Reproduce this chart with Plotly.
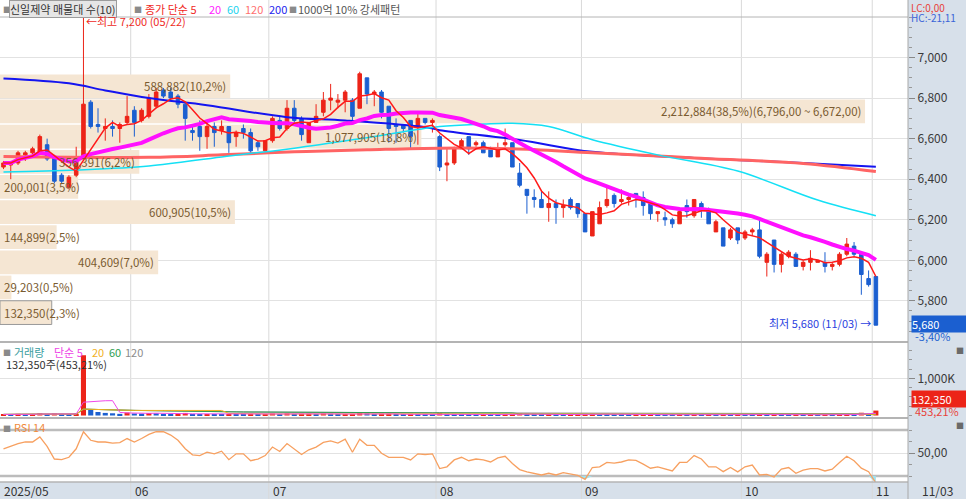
import numpy as np
import pandas as pd
import plotly.graph_objects as go

# trading days 2025-05-07 .. 2025-11-03 (KRX holidays taken out)
holidays = ["2025-06-03", "2025-06-06", "2025-08-15", "2025-10-03",
            "2025-10-06", "2025-10-07", "2025-10-08", "2025-10-09"]
dates = [d for d in pd.bdate_range("2025-05-07", "2025-11-03")
         if d.strftime("%Y-%m-%d") not in holidays]

# daily candles (won)
opens = [6460, 6470, 6480, 6520, 6530, 6530, 6570, 6510, 6420, 6360,
         6420, 6510, 6780, 6670, 6650, 6660, 6650, 6680, 6740, 6690,
         6710, 6760, 6840, 6830, 6810, 6770, 6640, 6660, 6610, 6660,
         6640, 6660, 6610, 6650, 6630, 6580, 6540, 6590, 6690, 6650,
         6750, 6700, 6580, 6680, 6730, 6790, 6780, 6790, 6790, 6750,
         6900, 6820, 6830, 6760, 6670, 6670, 6690, 6660, 6700, 6680,
         6610, 6470, 6480, 6550, 6610, 6570, 6580, 6550, 6510, 6570,
         6580, 6430, 6350, 6310, 6300, 6260, 6280, 6260, 6300, 6280,
         6230, 6120, 6180, 6270, 6320, 6290, 6300, 6330, 6310, 6280,
         6230, 6210, 6200, 6180, 6270, 6220, 6280, 6250, 6140, 6160,
         6110, 6160, 6110, 6140, 6150, 5990, 6100, 5980, 6020, 6030,
         5970, 5990, 5990, 5990, 5970, 5980, 6030, 6070, 6030, 5910,
         5920]
highs = [6490, 6490, 6540, 6540, 6560, 6620, 6600, 6520, 6430, 6420,
         6560, 7200, 6790, 6750, 6700, 6690, 6680, 6810, 6760, 6750,
         6820, 6850, 6850, 6850, 6820, 6780, 6660, 6690, 6690, 6680,
         6690, 6660, 6640, 6670, 6650, 6590, 6590, 6710, 6710, 6790,
         6790, 6710, 6680, 6770, 6830, 6870, 6820, 6840, 6800, 6930,
         6900, 6840, 6840, 6760, 6700, 6670, 6690, 6730, 6700, 6700,
         6620, 6550, 6560, 6600, 6610, 6590, 6590, 6560, 6580, 6650,
         6580, 6480, 6350, 6350, 6340, 6340, 6300, 6300, 6310, 6280,
         6230, 6240, 6290, 6360, 6330, 6350, 6320, 6330, 6340, 6290,
         6240, 6240, 6210, 6250, 6300, 6300, 6290, 6260, 6200, 6160,
         6160, 6160, 6150, 6160, 6200, 6040, 6100, 6040, 6050, 6040,
         6000, 6050, 6000, 6040, 5990, 6040, 6110, 6090, 6040, 5950,
         5920]
lows = [6450, 6400, 6470, 6490, 6510, 6520, 6490, 6380, 6380, 6350,
        6410, 6500, 6650, 6630, 6590, 6610, 6580, 6670, 6610, 6680,
        6700, 6750, 6800, 6790, 6750, 6590, 6590, 6540, 6550, 6560,
        6620, 6530, 6560, 6600, 6520, 6540, 6530, 6580, 6640, 6640,
        6680, 6590, 6580, 6680, 6710, 6740, 6750, 6730, 6690, 6750,
        6770, 6760, 6700, 6580, 6580, 6630, 6550, 6570, 6670, 6630,
        6440, 6390, 6470, 6550, 6520, 6560, 6530, 6510, 6510, 6560,
        6460, 6360, 6230, 6260, 6260, 6190, 6180, 6210, 6250, 6210,
        6140, 6120, 6180, 6260, 6260, 6280, 6270, 6260, 6220, 6200,
        6190, 6170, 6160, 6180, 6210, 6210, 6210, 6180, 6140, 6070,
        6100, 6080, 6100, 6120, 6010, 5920, 5940, 5940, 6010, 5970,
        5950, 5950, 5990, 5940, 5950, 5970, 6020, 6020, 5830, 5870,
        5680]
closes = [6480, 6480, 6530, 6530, 6550, 6610, 6500, 6390, 6390, 6410,
          6510, 6770, 6660, 6660, 6660, 6650, 6670, 6710, 6680, 6740,
          6800, 6830, 6810, 6800, 6770, 6700, 6630, 6610, 6660, 6630,
          6660, 6580, 6630, 6630, 6540, 6560, 6590, 6700, 6650, 6750,
          6690, 6620, 6680, 6710, 6790, 6800, 6790, 6830, 6710, 6920,
          6820, 6830, 6730, 6650, 6660, 6650, 6610, 6700, 6680, 6690,
          6460, 6480, 6550, 6590, 6550, 6580, 6530, 6510, 6550, 6580,
          6460, 6370, 6320, 6300, 6260, 6280, 6260, 6270, 6260, 6230,
          6140, 6240, 6260, 6300, 6280, 6300, 6310, 6310, 6270, 6230,
          6240, 6200, 6180, 6240, 6240, 6300, 6260, 6180, 6190, 6070,
          6150, 6100, 6140, 6150, 6020, 6030, 5980, 6030, 6040, 5970,
          5990, 6010, 6000, 5970, 5980, 6030, 6080, 6030, 5930, 5880,
          5680]
volumes = [30000, 25000, 45000, 30000, 35000, 60000, 40000, 55000, 35000, 30000,
           50000, 1620000, 150000, 95000, 70000, 60000, 45000, 80000,
           55000, 50000, 65000, 60000, 40000, 35000, 45000, 70000, 40000, 35000,
           38000, 30000, 28000, 45000, 25000, 22000, 40000, 25000, 30000,
           55000, 35000, 60000, 40000, 45000, 50000, 35000, 55000, 45000, 30000,
           35000, 40000, 90000, 60000, 30000, 45000, 50000, 25000, 20000, 35000,
           30000, 22000, 18000,
           70000, 45000, 35000, 30000, 28000, 20000, 25000, 22000, 20000, 24000,
           40000, 55000, 45000, 30000, 25000, 28000, 24000, 20000, 22000, 26000,
           40000, 45000, 35000, 30000, 25000, 20000, 18000, 22000, 25000, 28000,
           20000, 18000, 16000, 25000, 20000, 30000, 18000, 25000, 22000, 35000,
           20000, 24000,
           18000, 15000, 40000, 30000, 35000, 28000, 20000, 25000, 18000, 20000,
           12000, 18000, 15000, 25000, 35000, 30000, 75000, 29203, 132350]
rsi14 = [53.7, 55.8, 58.2, 59.6, 59.6, 64.0, 55.8, 44.8, 44.2, 46.3,
         53.7, 68.5, 61.1, 59.6, 59.6, 58.7, 59.1, 62.6, 59.6, 62.6,
         66.2, 68.5, 68.5, 65.6, 61.1, 53.7, 48.4, 47.8, 50.7, 49.3,
         51.6, 44.2, 49.3, 49.3, 43.3, 44.8, 47.8, 55.2, 51.3, 58.2,
         53.7, 48.7, 52.8, 55.2, 59.3, 60.5, 58.7, 62.0, 50.7, 62.0,
         56.7, 56.7, 49.8, 46.3, 46.3, 46.3, 44.0, 49.3, 48.7, 49.3,
         36.5, 38.0, 44.0, 46.3, 43.3, 44.8, 44.0, 42.2, 45.7, 47.2,
         40.9, 35.6, 33.6, 32.0, 30.9, 32.4, 30.9, 32.9, 32.0, 30.6,
         27.1, 37.4, 38.0, 41.8, 41.3, 42.2, 44.0, 43.6, 40.4, 36.8,
         38.0, 36.5, 34.4, 41.8, 41.8, 47.8, 44.8, 38.0, 38.0, 33.8,
         37.4, 33.6, 38.0, 39.5, 30.9, 31.5, 29.1, 36.0, 37.4, 32.4,
         35.1, 36.5, 36.5, 34.4, 36.0, 41.8, 47.2, 43.3, 36.8, 33.8,
         24.0]

ma60_idx = [0, 10, 20, 30, 40, 50, 60, 66, 70, 75, 81, 90, 101, 112, 120]
ma60_val = [6435, 6445, 6465, 6510, 6553, 6605, 6660, 6672, 6676, 6660, 6595, 6520, 6440, 6297, 6220]
ma120_idx = [0, 20, 30, 40, 50, 60, 70, 81, 95, 110, 120]
ma120_val = [6512, 6508, 6520, 6535, 6545, 6553, 6550, 6530, 6505, 6478, 6438]
ma200_idx = [0, 9, 14, 20, 28, 39, 47, 58, 60, 71, 81, 95, 110, 120]
ma200_val = [6897, 6873, 6838, 6800, 6765, 6706, 6690, 6657, 6642, 6593, 6535, 6505, 6480, 6462]

# volume profile (매물대), 10 price bins of 124 won
vp_low = [5680, 5804, 5928, 6052, 6176, 6300, 6424, 6548, 6672, 6796]
vp_vol = [132350, 29203, 404609, 144899, 600905, 200001, 356391, 1077905, 2212884, 588882]

price_ticks = [5800, 6000, 6200, 6400, 6600, 6800, 7000]

RED = "#ec2418"
BLUE = "#1b5fd0"
BEIGE = "#f5e6d3"
STRIP = "#d7e0ea"
GRID = "#e2e2e2"
FONT = "Noto Sans CJK KR"

n = len(dates)
xi = np.arange(n)
close_s = pd.Series(closes, dtype=float)
ma5 = close_s.rolling(5, min_periods=1).mean()
ma20 = close_s.rolling(20, min_periods=1).mean()
vol_s = pd.Series(volumes, dtype=float)
vol_colors = [RED if i == 0 or volumes[i] >= volumes[i - 1] else BLUE for i in range(n)]
vp_total = sum(vp_vol)
vp_pct = [v / vp_total * 100 for v in vp_vol]
month_start = [i for i in range(n) if i == 0 or dates[i].month != dates[i - 1].month]

PROFILE_MAX = 40.41      # 38.5% bar reaches ~865px of the 908px plot
XR = [-0.48, 124.42]

fig = go.Figure()

# volume profile under everything (main subplot)
fig.add_trace(go.Bar(x=vp_pct, y=[b + 62 for b in vp_low], orientation="h", width=117,
                     marker=dict(color=BEIGE,
                                 line=dict(color=["#9a9a9a"] + ["rgba(0,0,0,0)"] * 9, width=1)),
                     xaxis="x", yaxis="y", hoverinfo="skip"))

# price
fig.add_trace(go.Scatter(x=ma200_idx, y=ma200_val, mode="lines", line=dict(color="#1414f0", width=2, shape="spline"),
                         xaxis="x2", yaxis="y"))
fig.add_trace(go.Scatter(x=ma120_idx, y=ma120_val, mode="lines", line=dict(color="#ff6464", width=3, shape="spline"),
                         xaxis="x2", yaxis="y"))
fig.add_trace(go.Scatter(x=ma60_idx, y=ma60_val, mode="lines", line=dict(color="#14e0f5", width=1.5, shape="spline"),
                         xaxis="x2", yaxis="y"))
fig.add_trace(go.Scatter(x=xi, y=ma20, mode="lines", line=dict(color="#ff10ff", width=4),
                         xaxis="x2", yaxis="y"))
fig.add_trace(go.Candlestick(x=xi, open=opens, high=highs, low=lows, close=closes,
                             increasing=dict(line=dict(color=RED, width=1), fillcolor=RED),
                             decreasing=dict(line=dict(color=BLUE, width=1), fillcolor=BLUE),
                             whiskerwidth=0, xaxis="x2", yaxis="y"))
fig.add_trace(go.Scatter(x=xi, y=ma5, mode="lines", line=dict(color="#ff1a1a", width=1.5),
                         xaxis="x2", yaxis="y"))

# volume
fig.add_trace(go.Bar(x=xi, y=volumes, marker=dict(color=vol_colors, line=dict(width=0)), width=0.7,
                     xaxis="x3", yaxis="y2"))
for k, col in [(120, "#8c8c8c"), (60, "#2f9e50"), (20, "#f2b01e"), (5, "#f048e8")]:
    fig.add_trace(go.Scatter(x=xi, y=vol_s.rolling(k, min_periods=1).mean(), mode="lines",
                             line=dict(color=col, width=1), xaxis="x3", yaxis="y2"))

# RSI
fig.add_trace(go.Scatter(x=xi, y=[30] * n, mode="lines", line=dict(width=0), xaxis="x4", yaxis="y3"))
fig.add_trace(go.Scatter(x=xi, y=np.minimum(rsi14, 30), mode="lines", line=dict(width=0),
                         fill="tonexty", fillcolor="#9fe3f0", xaxis="x4", yaxis="y3"))
fig.add_trace(go.Scatter(x=xi, y=rsi14, mode="lines", line=dict(color="#f7a060", width=1.3),
                         xaxis="x4", yaxis="y3"))

W, T, B, HP = 908.0, 17, 482, 465.0


def py(y):
    return (B - y) / HP


def px(x):
    return x / W


hidden = dict(visible=False, fixedrange=True)
axis_font = dict(family=FONT, size=12, color="#3a3a3a")
fig.update_layout(
    width=966, height=499, margin=dict(l=0, r=58, t=T, b=499 - B),
    paper_bgcolor="white", plot_bgcolor="rgba(0,0,0,0)",
    showlegend=False, hovermode=False, barmode="overlay",
    font=dict(family=FONT, size=12, color="#333"),
    xaxis=dict(domain=[0, 1], range=[0, PROFILE_MAX], anchor="y", **hidden),
    xaxis2=dict(overlaying="x", anchor="y", range=XR, rangeslider=dict(visible=False), **hidden),
    xaxis3=dict(domain=[0, 1], anchor="y2", range=XR, **hidden),
    xaxis4=dict(domain=[0, 1], anchor="y3", range=XR, **hidden),
    yaxis=dict(domain=[py(341), 1], range=[5602, 7200], side="right", anchor="x",
               tickvals=price_ticks, tickformat=",d", showgrid=True, gridcolor=GRID, zeroline=False,
               ticks="outside", ticklen=6, tickcolor="#888", tickfont=axis_font,
               minor=dict(dtick=50, ticks="outside", ticklen=3, tickcolor="#999", showgrid=False),
               fixedrange=True),
    yaxis2=dict(domain=[py(417), py(344)], range=[-40000, 1922000], side="right", anchor="x3",
                tickvals=[1000000], ticktext=["1,000K"], showgrid=True, gridcolor=GRID, zeroline=False,
                ticks="outside", ticklen=6, tickcolor="#888", tickfont=axis_font,
                minor=dict(dtick=250000, ticks="outside", ticklen=3, tickcolor="#999", showgrid=False),
                fixedrange=True),
    yaxis3=dict(domain=[0, py(419)], range=[24.8, 79.6], side="right", anchor="x4",
                tickvals=[50], ticktext=["50,00"], showgrid=True, gridcolor=GRID, zeroline=False,
                ticks="outside", ticklen=6, tickcolor="#888", tickfont=axis_font,
                minor=dict(dtick=10, ticks="outside", ticklen=3, tickcolor="#999", showgrid=False),
                fixedrange=True),
)

shapes = [
    dict(type="rect", xref="paper", yref="paper", x0=1, x1=1.07, y0=-0.05, y1=1.05,
         fillcolor=STRIP, line=dict(width=0), layer="below"),
    dict(type="rect", xref="paper", yref="paper", x0=-0.01, x1=1.07, y0=-0.05, y1=0,
         fillcolor=STRIP, line=dict(width=0), layer="below"),
]
for i in month_start[1:]:
    shapes.append(dict(type="line", xref="x2", yref="paper", x0=i - 0.5, x1=i - 0.5, y0=-0.04, y1=1.04,
                       line=dict(color="#d9d9d9", width=1), layer="below"))
for yy, wd in [(17, 1), (342, 2), (418, 2), (482, 1.5)]:
    shapes.append(dict(type="line", xref="paper", yref="paper", x0=0, x1=1, y0=py(yy), y1=py(yy),
                       line=dict(color="#b4b4b4", width=wd)))
for lvl in (70, 30):
    shapes.append(dict(type="line", xref="paper", yref="y3", x0=0, x1=1, y0=lvl, y1=lvl,
                       line=dict(color="#bcbcbc", width=2.5), layer="below"))
shapes.append(dict(type="line", xref="paper", yref="paper", x0=1, x1=1, y0=-0.04, y1=1.04,
                   line=dict(color="#a8a8a8", width=1)))
fig.update_layout(shapes=shapes)


def note(text, x, y, color, size=11, **kw):
    fig.add_annotation(text=text, x=px(x), y=py(y), xref="paper", yref="paper",
                       xanchor=kw.pop("xanchor", "left"), yanchor="middle", showarrow=False,
                       font=dict(family=FONT, size=size, color=color), **kw)


# header row
note("■", 1, 9, "#8a8a8a", size=8)
note("신일제약 매물대 수(10)", 9, 9, "#333", bgcolor="#e6e6e6", bordercolor="#9c9c9c", borderwidth=1, borderpad=0)
note("■", 132, 9, "#8a8a8a", size=8)
note("종가 단순 5", 143, 9, "#f0281e")
note("20", 207, 9, "#ff22ff")
note("60", 225, 9, "#22d3ee")
note("120", 243, 9, "#ff7070")
note("200", 267, 9, "#2424ee")
note("■", 287, 9, "#8a8a8a", size=8)
note("1000억 10% 강세패턴", 296, 9, "#555")
note("LC:0,00", 909, 7, "#e8433a", size=10)
note("HC:-21,11", 909, 17, "#3a64d8", size=10)

# volume / RSI panel titles
note("■", 1, 352, "#8a8a8a", size=8)
note("거래량", 12, 352, "#3b9ea0")
note("단순 5", 52, 352, "#ee44e6")
note("20", 90, 352, "#f2b01e")
note("60", 107, 352, "#2f9e50")
note("120", 123, 352, "#8c8c8c")
note("132,350주(453,21%)", 4, 364, "#333")
note("■", 1, 428, "#8a8a8a", size=8)
note("RSI 14", 12, 427, "#f08a3c")
note("■", 954, 350, "#6a6a6a", size=8)
note("■", 954, 425, "#6a6a6a", size=8)

# last value tags
note("5,680    ", 911, 324, "white", bgcolor=BLUE, borderpad=0, width=54, align="left")
note("-3,40%", 913, 336, BLUE, size=11)
note("132,350  ", 911, 399, "white", bgcolor=RED, borderpad=0, width=54, align="left")
note("453,21%", 913, 411, "#e8433a", size=11)

# date strip
for i in month_start:
    label = "2025/05" if i == 0 else dates[i].strftime("%m")
    fig.add_annotation(text=label, x=max(i - 0.5, XR[0]), xref="x2", y=py(491), yref="paper",
                       xanchor="left", yanchor="middle", xshift=2, showarrow=False,
                       font=dict(family=FONT, size=12, color="#333"))
note(dates[-1].strftime("%m/%d"), 920, 491, "#333", size=12)

# high / low marks
fig.add_annotation(text="←최고 7,200 (05/22)", x=11, y=highs[11], xref="x2", yref="y", xanchor="left",
                   yanchor="middle", xshift=1, yshift=-4, showarrow=False,
                   font=dict(family=FONT, size=11, color="#ee2a1e"))
fig.add_annotation(text="최저 5,680 (11/03) →", x=n - 1, y=lows[-1], xref="x2", yref="y", xanchor="right",
                   yanchor="middle", xshift=-3, yshift=2, showarrow=False,
                   font=dict(family=FONT, size=11, color="#2a3ee0"))

# volume profile labels
for low, vol, pct in zip(vp_low, vp_vol, vp_pct):
    txt = f"{vol:,}({pct:.1f}%)".replace(".", ",")
    if low == 6672:
        txt += "(6,796,00 ~ 6,672,00)"
    wide = pct / PROFILE_MAX * W > 80
    fig.add_annotation(text=txt, x=pct if wide else 0, y=low + 62, xref="x", yref="y",
                       xanchor="right" if wide else "left", xshift=-2 if wide else 2,
                       yanchor="middle", showarrow=False,
                       font=dict(family=FONT, size=11.5, color="#7a5b30"))

# the page body has an 8px default margin; drop it so the figure sits at the window corner
fig.write_html("out.html", config={"displayModeBar": False},
               post_script="document.body.style.margin='0';document.body.style.overflow='hidden';")
